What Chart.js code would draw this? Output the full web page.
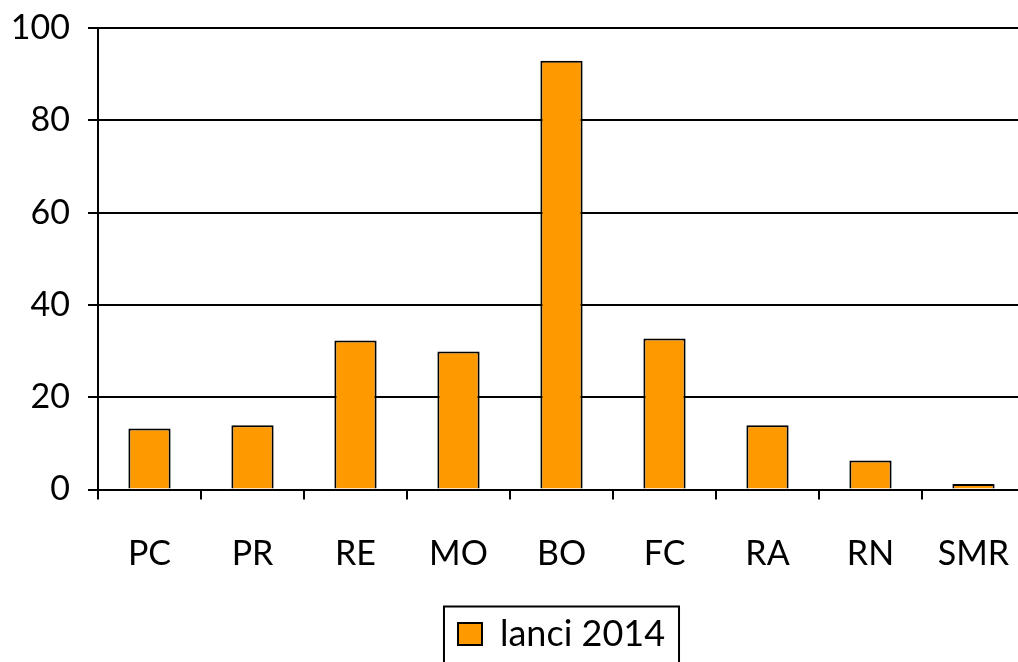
<!DOCTYPE html>
<html lang="it">
<head>
  <meta charset="UTF-8" />
  <title>lanci 2014</title>
  <script src="https://cdn.jsdelivr.net/npm/chart.js"></script>
  <style>
    html, body { margin: 0; padding: 0; background: #fff; overflow: hidden; }
    .chart-box { width: 1025px; height: 662px; }
  </style>
</head>
<body>
  <div class="chart-box">
    <canvas id="lanciChart"></canvas>
  </div>

  <script>
    // data
    const provinces = ['PC', 'PR', 'RE', 'MO', 'BO', 'FC', 'RA', 'RN', 'SMR'];
    const lanci2014 = [13.2, 13.9, 32.3, 29.9, 92.9, 32.7, 13.9, 6.3, 1.2];
    const yTicks = [0, 20, 40, 60, 80, 100];

    const fontFamily = 'Lato, "Open Sans", sans-serif';

    // frame around the legend, like the original
    const legendFrame = {
      id: 'legendFrame',
      afterDraw(chart) {
        const legend = chart.legend;
        if (!legend || !legend.legendHitBoxes.length) return;
        const hb = legend.legendHitBoxes[0];
        const c = chart.ctx;
        c.save();
        c.strokeStyle = '#000';
        c.lineWidth = 2;
        c.strokeRect(hb.left - 14, legend.top - 7, hb.width + 28, 100);
        c.restore();
      }
    };

    const ctx = document.getElementById('lanciChart').getContext('2d');
    new Chart(ctx, {
      type: 'bar',
      data: {
        labels: provinces,
        datasets: [{
          label: 'lanci 2014',
          data: lanci2014,
          backgroundColor: '#FF9900',
          borderColor: '#000',
          borderWidth: 2,
          barPercentage: 0.41,
          categoryPercentage: 1
        }]
      },
      options: {
        responsive: true,
        maintainAspectRatio: false,
        animation: false,
        layout: { padding: { top: 28, left: 0, right: 0, bottom: 0 } },
        plugins: {
          legend: {
            position: 'bottom',
            fullSize: false,
            labels: {
              color: '#000',
              font: { family: fontFamily, size: 36 },
              boxWidth: 24,
              boxHeight: 22,
              padding: 2.5
            }
          },
          tooltip: { enabled: false }
        },
        scales: {
          x: {
            offset: true,
            grid: {
              offset: true,
              drawOnChartArea: false,
              color: '#000',
              lineWidth: 2,
              tickLength: 10
            },
            border: { color: '#000', width: 2 },
            ticks: {
              color: '#000',
              font: { family: fontFamily, size: 34 },
              padding: 34,
              maxRotation: 0,
              minRotation: 0
            },
            afterFit(scale) {
              scale.height = 124;
              scale.paddingLeft = 0;
              scale.paddingRight = 0;
            }
          },
          y: {
            min: 0,
            max: 100,
            afterBuildTicks(scale) {
              scale.ticks = yTicks.map(v => ({ value: v }));
            },
            grid: {
              color: '#000',
              lineWidth: 2,
              tickLength: 10
            },
            border: { color: '#000', width: 2 },
            ticks: {
              color: '#000',
              font: { family: fontFamily, size: 34 },
              padding: 18
            },
            afterFit(scale) {
              scale.width = 98;
              scale.paddingTop = 0;
              scale.paddingBottom = 0;
            }
          }
        }
      },
      plugins: [legendFrame]
    });
  </script>
</body>
</html>
